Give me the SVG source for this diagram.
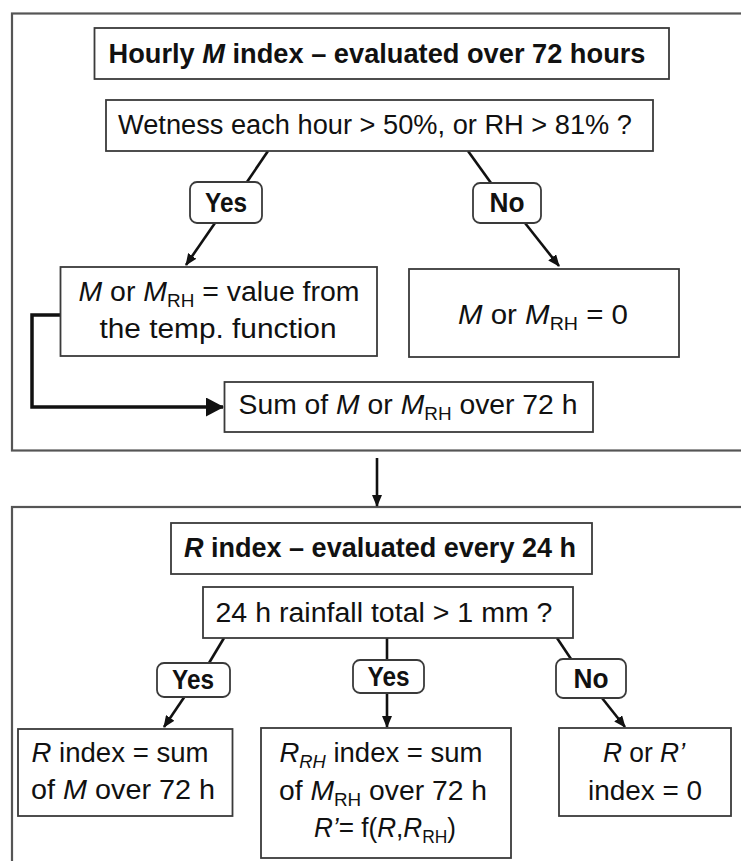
<svg xmlns="http://www.w3.org/2000/svg" width="741" height="861" viewBox="0 0 741 861">
<style>
.outer{fill:none;stroke:#555;stroke-width:2.2}
.box{fill:#fff;stroke:#3a3a3a;stroke-width:1.8}
.lbl{fill:#fff;stroke:#3a3a3a;stroke-width:1.8}
text{font-family:"Liberation Sans",Arial,sans-serif;fill:#111;font-size:27px;text-anchor:middle}
.b{font-weight:bold}
.i{font-style:italic}
.sub{font-size:18px}
.ln{stroke:#111;stroke-width:2.6;fill:none}
.thick{stroke:#111;stroke-width:3.5;fill:none}
</style>
<defs>
<marker id="ah" markerUnits="userSpaceOnUse" markerWidth="12" markerHeight="10" refX="11" refY="5" orient="auto"><path d="M0,0 L12,5 L0,10 z" fill="#111"/></marker>
<marker id="ahbig" markerUnits="userSpaceOnUse" markerWidth="18" markerHeight="19" refX="17" refY="9.5" orient="auto"><path d="M0,0 L18,9.5 L0,19 z" fill="#111"/></marker>
</defs>
<rect class="outer" x="12" y="13.5" width="760" height="437"/>
<rect class="outer" x="12" y="507" width="760" height="400"/>
<g id="connectors">
<line class="ln" x1="268" y1="151" x2="247" y2="182"/>
<line class="ln" x1="468" y1="151" x2="491" y2="183"/>
<line class="ln" x1="215" y1="223" x2="186" y2="265" marker-end="url(#ah)"/>
<line class="ln" x1="525" y1="223" x2="559" y2="266" marker-end="url(#ah)"/>
<polyline class="thick" points="60.5,315 32,315 32,407 223,407" marker-end="url(#ahbig)"/>
<line class="ln" x1="377" y1="458" x2="377" y2="506" marker-end="url(#ah)"/>
<line class="ln" x1="224" y1="638" x2="209" y2="663"/>
<line class="ln" x1="387" y1="638" x2="387" y2="660"/>
<line class="ln" x1="557" y1="638" x2="571" y2="659"/>
<line class="ln" x1="185" y1="696" x2="164" y2="727" marker-end="url(#ah)"/>
<line class="ln" x1="387" y1="693" x2="387" y2="727" marker-end="url(#ah)"/>
<line class="ln" x1="602" y1="698" x2="625" y2="727" marker-end="url(#ah)"/>
</g>
<g id="title1">
<rect class="box" x="94.5" y="28" width="574.5" height="51"/>
<text class="b" x="377" y="63" textLength="537" lengthAdjust="spacingAndGlyphs">Hourly <tspan class="i">M</tspan> index – evaluated over 72 hours</text>
</g>
<g id="question1">
<rect class="box" x="106" y="100" width="547" height="51"/>
<text x="375" y="134" textLength="514" lengthAdjust="spacingAndGlyphs">Wetness each hour &gt; 50%, or RH &gt; 81% ?</text>
</g>
<g id="yes1">
<rect class="lbl" x="190" y="182" width="72" height="41" rx="7"/>
<text class="b" x="226" y="212" font-size="26" textLength="42" lengthAdjust="spacingAndGlyphs">Yes</text>
</g>
<g id="no1">
<rect class="lbl" x="473" y="183" width="68" height="40" rx="7"/>
<text class="b" x="507" y="212" textLength="35" lengthAdjust="spacingAndGlyphs">No</text>
</g>
<g id="mvalue">
<rect class="box" x="60.5" y="267" width="316.5" height="89"/>
<text x="219" y="301" textLength="281" lengthAdjust="spacingAndGlyphs"><tspan class="i">M</tspan> or <tspan class="i">M</tspan><tspan class="sub" dy="6">RH</tspan><tspan dy="-6"> = value from</tspan></text>
<text x="218" y="338" textLength="237" lengthAdjust="spacingAndGlyphs">the temp. function</text>
</g>
<g id="mzero">
<rect class="box" x="409" y="269" width="270" height="88"/>
<text x="543" y="324" textLength="170" lengthAdjust="spacingAndGlyphs"><tspan class="i">M</tspan> or <tspan class="i">M</tspan><tspan class="sub" dy="6">RH</tspan><tspan dy="-6">  = 0</tspan></text>
</g>
<g id="sum">
<rect class="box" x="224.5" y="382" width="368.5" height="50"/>
<text x="408" y="414" textLength="339" lengthAdjust="spacingAndGlyphs">Sum of <tspan class="i">M</tspan> or <tspan class="i">M</tspan><tspan class="sub" dy="6">RH</tspan><tspan dy="-6"> over 72 h</tspan></text>
</g>
<g id="title2">
<rect class="box" x="171" y="523" width="421" height="51"/>
<text class="b" x="380" y="557" textLength="392" lengthAdjust="spacingAndGlyphs"><tspan class="i">R</tspan> index – evaluated every 24 h</text>
</g>
<g id="question2">
<rect class="box" x="203" y="587" width="370" height="51"/>
<text x="384" y="622" textLength="337" lengthAdjust="spacingAndGlyphs">24 h rainfall total &gt; 1 mm ?</text>
</g>
<g id="yes2">
<rect class="lbl" x="157" y="663" width="73" height="34" rx="7"/>
<text class="b" x="193" y="689" textLength="42" lengthAdjust="spacingAndGlyphs">Yes</text>
</g>
<g id="yes3">
<rect class="lbl" x="353" y="660" width="71" height="33" rx="7"/>
<text class="b" x="388.5" y="686" textLength="42" lengthAdjust="spacingAndGlyphs">Yes</text>
</g>
<g id="no2">
<rect class="lbl" x="556" y="659" width="70" height="39" rx="7"/>
<text class="b" x="591" y="688" textLength="35" lengthAdjust="spacingAndGlyphs">No</text>
</g>
<g id="rindex">
<rect class="box" x="18" y="729" width="214.5" height="87"/>
<text x="120" y="762" textLength="177" lengthAdjust="spacingAndGlyphs"><tspan class="i">R</tspan> index = sum</text>
<text x="123" y="799" textLength="184" lengthAdjust="spacingAndGlyphs">of <tspan class="i">M</tspan> over 72 h</text>
</g>
<g id="rrh">
<rect class="box" x="261" y="728" width="250" height="130"/>
<text x="381" y="762" textLength="203" lengthAdjust="spacingAndGlyphs"><tspan class="i">R</tspan><tspan class="sub i" dy="6">RH</tspan><tspan dy="-6"> index = sum</tspan></text>
<text x="383" y="800" textLength="208" lengthAdjust="spacingAndGlyphs">of <tspan class="i">M</tspan><tspan class="sub" dy="6">RH</tspan><tspan dy="-6"> over 72 h</tspan></text>
<text x="385" y="837" textLength="142" lengthAdjust="spacingAndGlyphs"><tspan class="i">R’</tspan>= f(<tspan class="i">R</tspan>,<tspan class="i">R</tspan><tspan class="sub" dy="6">RH</tspan><tspan dy="-6">)</tspan></text>
</g>
<g id="rzero">
<rect class="box" x="559" y="728" width="172" height="88"/>
<text x="644" y="762" textLength="82" lengthAdjust="spacingAndGlyphs"><tspan class="i">R</tspan> or <tspan class="i">R’</tspan></text>
<text x="645" y="800" textLength="114" lengthAdjust="spacingAndGlyphs">index = 0</text>
</g>
</svg>
